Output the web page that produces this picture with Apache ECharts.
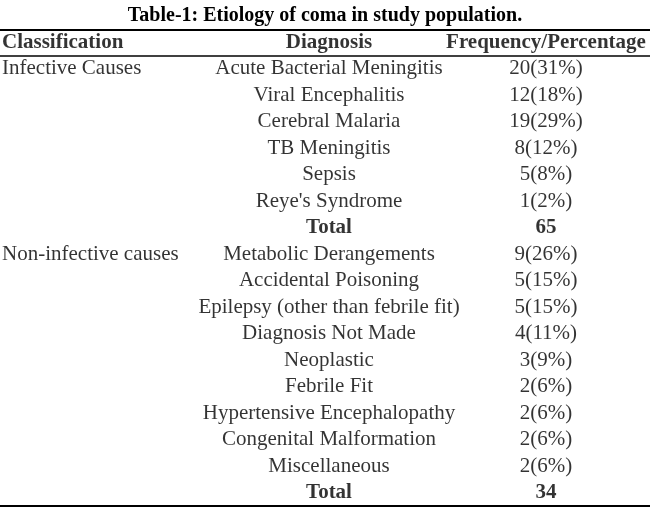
<!DOCTYPE html>
<html><head><meta charset="utf-8">
<script src="https://cdn.jsdelivr.net/npm/echarts@6/dist/echarts.min.js"></script>
<style>html,body{margin:0;padding:0;background:#fff}#c{width:650px;height:512px}</style>
</head><body><div id="c"></div>
<script>
var titleText = 'Table-1: Etiology of coma in study population.';
var headers = ['Classification', 'Diagnosis', 'Frequency/Percentage'];
var classification = ['Infective Causes', '', '', '', '', '', '', 'Non-infective causes', '', '', '', '', '', '', '', '', ''];
var diagnosis = ['Acute Bacterial Meningitis', 'Viral Encephalitis', 'Cerebral Malaria', 'TB Meningitis', 'Sepsis',
  "Reye's Syndrome", 'Total', 'Metabolic Derangements', 'Accidental Poisoning', 'Epilepsy (other than febrile fit)',
  'Diagnosis Not Made', 'Neoplastic', 'Febrile Fit', 'Hypertensive Encephalopathy', 'Congenital Malformation',
  'Miscellaneous', 'Total'];
var frequency = ['20(31%)', '12(18%)', '19(29%)', '8(12%)', '5(8%)', '1(2%)', '65', '9(26%)', '5(15%)', '5(15%)',
  '4(11%)', '3(9%)', '2(6%)', '2(6%)', '2(6%)', '2(6%)', '34'];
var colX = [2, 329, 546];
var colAlign = ['left', 'center', 'center'];

var rows = ['h'];
for (var i = 0; i < diagnosis.length; i++) rows.push('r' + i);

function makeSeries(col, values) {
  var all = [headers[col]].concat(values);
  return {
    type: 'scatter', symbolSize: 0,
    data: all.map(function (t, i) {
      var bold = i === 0 || diagnosis[i - 1] === 'Total';
      return {
        value: [colX[col], rows[i]],
        label: { show: true, position: 'inside', align: colAlign[col], verticalAlign: 'middle',
          formatter: t, fontWeight: bold ? 'bold' : 'normal', color: '#000',
          fontFamily: 'Liberation Serif', fontSize: 21 }
      };
    }),
    silent: true
  };
}

var chart = echarts.init(document.getElementById('c'));
chart.setOption({
  animation: false,
  title: { text: titleText, left: 'center', top: 1,
    textStyle: { fontFamily: 'Liberation Serif', fontSize: 20, fontWeight: 'bold', color: '#000' } },
  grid: { left: 0, right: 0, top: 29, height: 477 },
  xAxis: { type: 'value', min: 0, max: 650, show: false },
  yAxis: { type: 'category', data: rows, inverse: true, show: false },
  series: [makeSeries(0, classification), makeSeries(1, diagnosis), makeSeries(2, frequency)],
  graphic: [
    { type: 'line', shape: { x1: 0, y1: 30, x2: 650, y2: 30 }, style: { stroke: '#000', lineWidth: 2 } },
    { type: 'line', shape: { x1: 0, y1: 56, x2: 650, y2: 56 }, style: { stroke: '#000', lineWidth: 1.5 } },
    { type: 'line', shape: { x1: 0, y1: 506, x2: 650, y2: 506 }, style: { stroke: '#000', lineWidth: 2 } }
  ]
});
</script></body></html>
